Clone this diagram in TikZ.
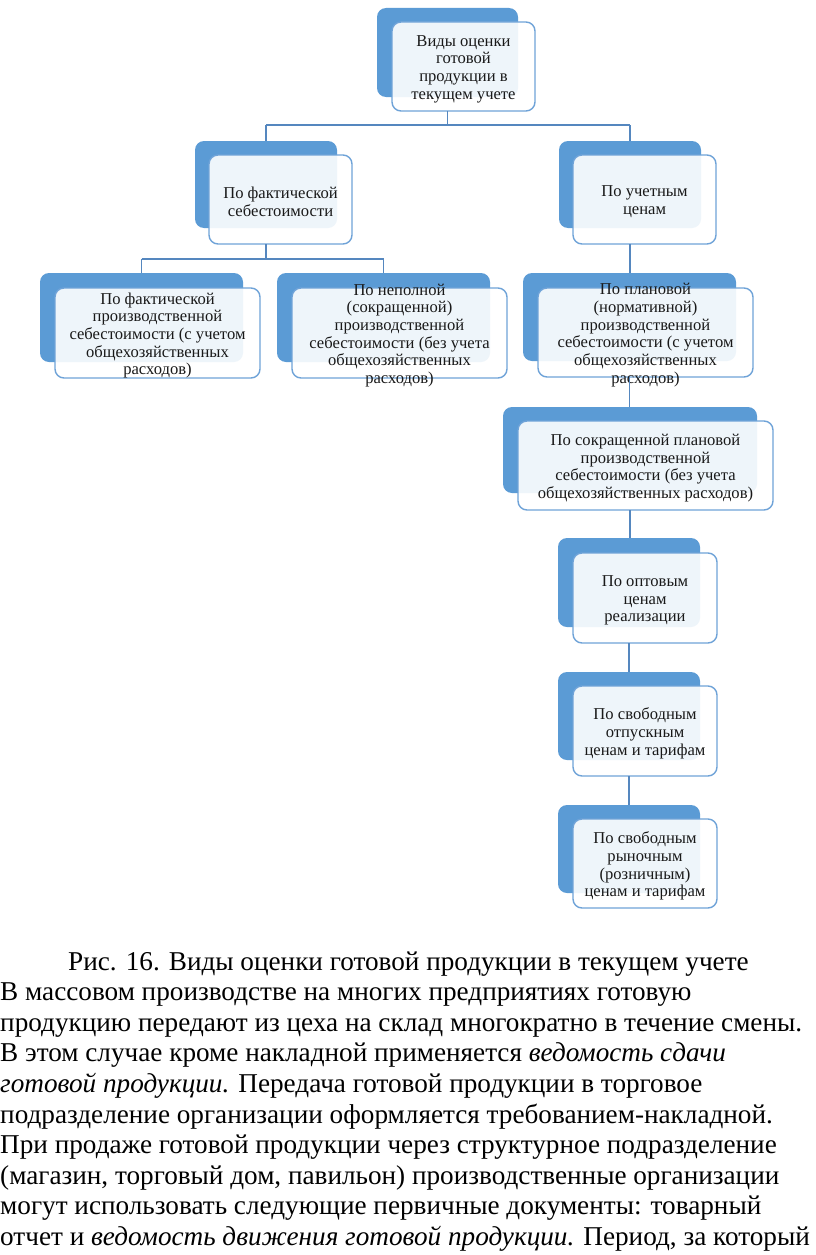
\documentclass[tikz,border=0pt]{standalone}
\usepackage{fontspec}
\setmainfont{Liberation Serif}
\usetikzlibrary{fit}
\definecolor{backblue}{HTML}{5B9BD5}
\definecolor{frontline}{HTML}{6FA3D8}
\definecolor{connblue}{HTML}{5587BF}
\tikzset{
  backbox/.style={fill=backblue, rounded corners=9pt, inner sep=0pt, outer sep=0pt},
  frontbox/.style={draw=frontline, line width=1.4pt, fill=white, fill opacity=0.9, rounded corners=9pt, inner sep=0pt, outer sep=0pt},
  boxtext/.style={align=center, inner sep=0pt, yshift=-2.5pt, text=black!90, font=\fontsize{16.6}{17.7}\selectfont},
  conn/.style={draw=connblue, line width=1.5pt},
  para/.style={anchor=base west, inner sep=0pt, font=\fontsize{27.2}{30}\selectfont}
}
\newcommand\twobox[9]{%
  \node[backbox, fit={(#2,#3) (#4,#5)}] (b#1) {};
  \node[frontbox, fit={(#6,#7) (#8,#9)}] (f#1) {};
}
\begin{document}
\begin{tikzpicture}[x=1pt,y=-1pt]
\useasboundingbox[fill=white] (0,0) rectangle (816,1255);
% boxes
\twobox{0}{377}{8}{518}{97}{392}{22}{535}{111}
\twobox{1}{195}{141}{337}{228}{209}{155}{352}{244}
\twobox{2}{559}{141}{701}{228}{573}{155}{716}{244}
\twobox{3}{40}{273}{243}{362}{55}{288}{260}{378}
\twobox{4}{277}{273}{490}{362}{292}{288}{507}{378}
\twobox{5}{523}{273}{736}{361}{538}{288}{753}{377}
\twobox{6}{503}{407}{757}{493}{518}{421}{773}{510}
\twobox{7}{558}{538}{700}{627}{573}{553}{717}{643}
\twobox{8}{558}{672}{700}{760}{573}{686}{717}{776}
\twobox{9}{558}{805}{700}{893}{573}{819}{717}{908}
% texts
\node[boxtext] (t0) at (f0.center) {Виды оценки\\готовой\\продукции в\\текущем учете};
\node[boxtext] (t1) at (f1.center) {По фактической\\себестоимости};
\node[boxtext] (t2) at (f2.center) {По учетным\\ценам};
\node[boxtext] (t3) at (f3.center) {По фактической\\производственной\\себестоимости (с учетом\\общехозяйственных\\расходов)};
\node[boxtext] (t4) at (f4.center) {По неполной\\(сокращенной)\\производственной\\себестоимости (без учета\\общехозяйственных\\расходов)};
\node[boxtext] (t5) at (f5.center) {По плановой\\(нормативной)\\производственной\\себестоимости (с учетом\\общехозяйственных\\расходов)};
\node[boxtext] (t6) at (f6.center) {По сокращенной плановой\\производственной\\себестоимости (без учета\\общехозяйственных расходов)};
\node[boxtext] (t7) at (f7.center) {По оптовым\\ценам\\реализации};
\node[boxtext] (t8) at (f8.center) {По свободным\\отпускным\\ценам и тарифам};
\node[boxtext] (t9) at (f9.center) {По свободным\\рыночным\\(розничным)\\ценам и тарифам};
% connectors
\coordinate (j0) at (0,125);
\coordinate (j1) at (0,259);
\draw[conn] (b0.center |- f0.south) -- (b0.center |- j0);
\draw[conn] (b1.center |- j0) -- (b2.center |- j0);
\draw[conn] (b1.center |- j0) -- (b1.north);
\draw[conn] (b2.center |- j0) -- (b2.north);
\draw[conn] (b1.center |- f1.south) -- (b1.center |- j1);
\draw[conn] (b3.center |- j1) -- (b4.center |- j1);
\draw[conn] (b3.center |- j1) -- (b3.north);
\draw[conn] (b4.center |- j1) -- (b4.north);
\draw[conn] (b2.center |- f2.south) -- (b2.center |- b5.north);
\draw[conn] (b5.center |- f5.south) -- (b5.center |- b6.north);
\draw[conn] (b6.center |- f6.south) -- (b6.center |- b7.north);
\draw[conn] (b7.center |- f7.south) -- (b7.center |- b8.north);
\draw[conn] (b8.center |- f8.south) -- (b8.center |- b9.north);
% paragraph
\node[para] (p1) at (68,970) {Рис. 16. Виды оценки готовой продукции в текущем учете};
\node[para] (p2) at (0,1000.6) {В массовом производстве на многих предприятиях готовую};
\node[para] (p3) at (0,1031.2) {продукцию передают из цеха на склад многократно в течение смены.};
\node[para] (p4) at (0,1061.8) {В этом случае кроме накладной применяется \textit{ведомость сдачи}};
\node[para] (p5) at (0,1092.4) {\textit{готовой продукции.} Передача готовой продукции в торговое};
\node[para] (p6) at (0,1123) {подразделение организации оформляется требованием-накладной.};
\node[para] (p7) at (0,1153.6) {При продаже готовой продукции через структурное подразделение};
\node[para] (p8) at (0,1184.2) {(магазин, торговый дом, павильон) производственные организации};
\node[para] (p9) at (0,1214.8) {могут использовать следующие первичные документы: товарный};
\node[para] (p10) at (0,1245.4) {отчет и \textit{ведомость движения готовой продукции.} Период, за который};
\end{tikzpicture}
\end{document}
